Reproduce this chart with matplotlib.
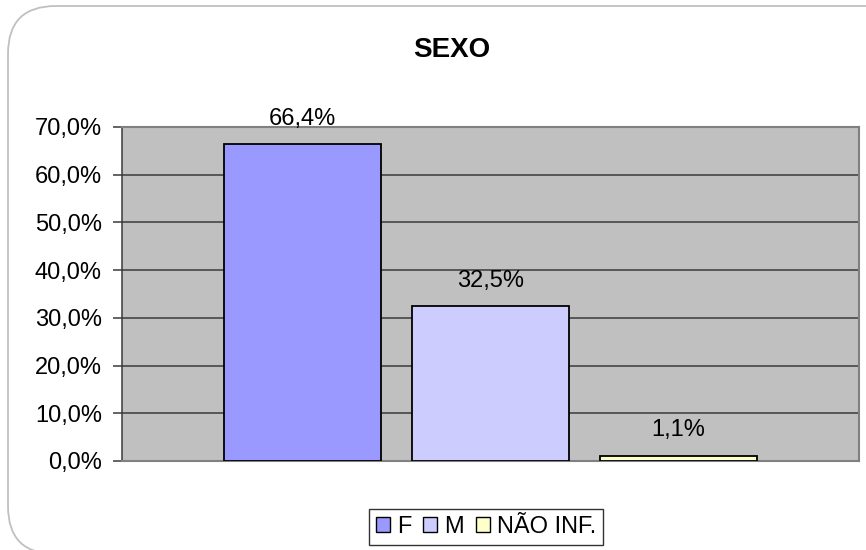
import matplotlib
matplotlib.use("Agg")
import matplotlib.pyplot as plt
from matplotlib.patches import FancyBboxPatch
import numpy as np

# data
categories = ["F", "M", "NÃO INF."]
values = [66.4, 32.5, 1.1]
colors = ["#9999FF", "#CCCCFF", "#FFFFCC"]
yticks = [0, 10, 20, 30, 40, 50, 60, 70]

plt.rcParams["font.family"] = ["Liberation Sans", "DejaVu Sans"]
FS = 17

fig = plt.figure(figsize=(8.66, 5.5), dpi=100)

# rounded outer frame, runs off the right/bottom edge like the original
frame = FancyBboxPatch((8 / 866, -4 / 550), 1.2, 1 - 6 / 550 + 4 / 550,
                       boxstyle="round,pad=0,rounding_size=0.055",
                       transform=fig.transFigure, facecolor="white",
                       edgecolor="#C0C0C0", linewidth=1.3,
                       mutation_aspect=866 / 550, zorder=0)
fig.patches.append(frame)

ax = fig.add_axes([122 / 866, 1 - 461 / 550, (859 - 122) / 866, (461 - 127) / 550])
ax.set_zorder(2)
ax.set_facecolor("#C0C0C0")

x = np.arange(len(categories))
ax.bar(x, values, width=0.835, color=colors, edgecolor="black",
       linewidth=1.3, zorder=3)

for xi, v in zip(x, values):
    ax.text(xi, v + 3.0, f"{v:.1f}%".replace(".", ","), ha="center", va="bottom",
            fontsize=FS, zorder=4, clip_on=False)

ax.set_xlim(-0.96, 2.96)
ax.set_ylim(0, 70)
ax.set_yticks(yticks)
ax.set_yticklabels([f"{t:.1f}%".replace(".", ",") for t in yticks], fontsize=FS)
ax.set_xticks([])
ax.yaxis.grid(True, color="#3A3A3A", linewidth=1.1, zorder=1)
ax.tick_params(axis="y", length=6.5, width=1.1, color="#3A3A3A", pad=8)

for s in ["top", "right", "bottom"]:
    ax.spines[s].set_color("#808080")
    ax.spines[s].set_linewidth(1.5)
ax.spines["left"].set_color("#3A3A3A")
ax.spines["left"].set_linewidth(1.1)

fig.text(452 / 866, 1 - 50 / 550, "SEXO", ha="center", va="center",
         fontsize=20, fontweight="bold", zorder=3)

handles = [plt.Rectangle((0, 0), 1, 1, facecolor=c, edgecolor="black", linewidth=1)
           for c in colors]
leg = fig.legend(handles, categories, loc="center",
                 bbox_to_anchor=(486 / 866, 1 - 527 / 550), ncol=3, fontsize=FS,
                 frameon=True, fancybox=False, handlelength=0.6, handleheight=0.6,
                 handletextpad=0.3, columnspacing=0.5, borderpad=0.3,
                 borderaxespad=0)
leg.set_zorder(3)
leg.get_frame().set_edgecolor("black")
leg.get_frame().set_linewidth(1.0)

fig.savefig("out.png", dpi=100)
